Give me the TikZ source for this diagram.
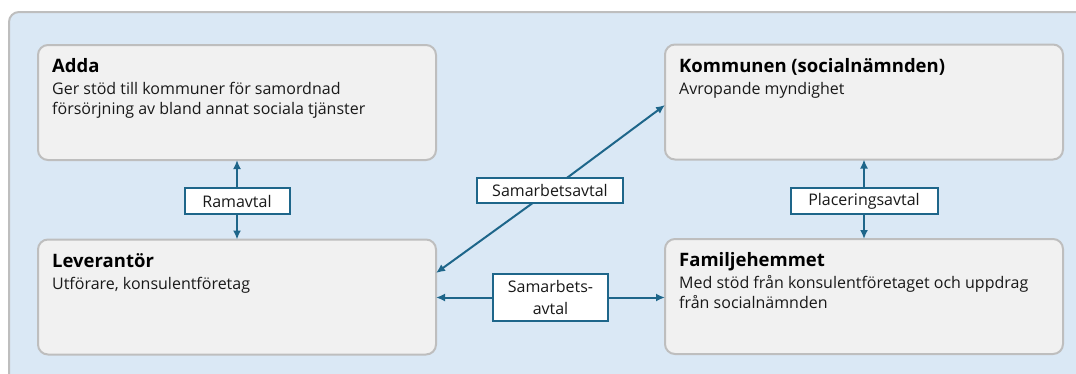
\documentclass[tikz,border=0pt]{standalone}
\usepackage{fontspec}
\setmainfont{Open Sans}
\usetikzlibrary{arrows.meta}
\definecolor{panelblue}{RGB}{218,232,245}
\definecolor{boxgray}{RGB}{241,241,241}
\definecolor{kantgray}{RGB}{190,190,190}
\definecolor{pilblue}{RGB}{30,102,138}
\begin{document}
\begin{tikzpicture}[x=1pt, y=-1pt,
    kort/.style={draw=kantgray, fill=boxgray, line width=2pt, rounded corners=10pt, minimum width=398pt, minimum height=115pt, inner sep=0pt, outer sep=0pt},
    rubrik/.style={anchor=base west, inner sep=0pt, font=\fontsize{18.5}{22}\selectfont\bfseries},
    brodtext/.style={anchor=north west, inner sep=0pt, align=left, text=black!90, font=\fontsize{16}{19.5}\selectfont},
    avtal/.style={draw=pilblue, fill=white, line width=2pt, minimum height=26pt, inner sep=0pt, outer sep=0pt, text=black!90, font=\fontsize{16}{21.5}\selectfont},
    pil/.style={draw=pilblue, line width=2pt, -{Latex[length=9pt,width=8pt]}}]
    \useasboundingbox (0,0) rectangle (1076,373);
    \clip (0,0) rectangle (1076,373);

    % 背景
    \draw[draw=kantgray, fill=panelblue, line width=2pt, rounded corners=10pt] (9,12) rectangle (1100,400);

    % 四个框
    \node[kort] (adda) at (237,102.5) {};
    \node[kort] (kommunen) at (864,102) {};
    \node[kort] (leverantor) at (237,297) {};
    \node[kort] (familj) at (864,296.5) {};

    % 框内文字
    \node[rubrik] (adda-rubrik) at ([xshift=14pt,yshift=-27.5pt]adda.north west) {Adda};
    \node[brodtext] (adda-text) at ([xshift=14pt,yshift=-35.8pt]adda.north west) {\strut Ger stöd till kommuner för samordnad\\försörjning av bland annat sociala tjänster};
    \node[rubrik] (kommunen-rubrik) at ([xshift=14pt,yshift=-27.5pt]kommunen.north west) {Kommunen (socialnämnden)};
    \node[brodtext] (kommunen-text) at ([xshift=14pt,yshift=-35.8pt]kommunen.north west) {\strut Avropande myndighet};
    \node[rubrik] (leverantor-rubrik) at ([xshift=14pt,yshift=-27.5pt]leverantor.north west) {Leverantör};
    \node[brodtext] (leverantor-text) at ([xshift=14pt,yshift=-35.8pt]leverantor.north west) {\strut Utförare, konsulentföretag};
    \node[rubrik] (familj-rubrik) at ([xshift=14pt,yshift=-27.5pt]familj.north west) {Familjehemmet};
    \node[brodtext] (familj-text) at ([xshift=14pt,yshift=-35.8pt]familj.north west) {\strut Med stöd från konsulentföretaget och uppdrag\\från socialnämnden};

    % 协议
    \node[avtal, minimum width=105pt] (ramavtal) at (237,201) {Ramavtal};
    \node[avtal, minimum width=147pt] (placering) at (864,201) {Placeringsavtal};
    \node[avtal, minimum width=146pt, minimum height=25pt] (samarb) at (550,190.5) {Samarbetsavtal};
    \node[avtal, minimum width=115pt, minimum height=47pt, align=center] (samarb2) at (550.5,297.5) {Samarbets-\\avtal};

    % 箭头
    \draw[pil] (ramavtal) -- (adda);
    \draw[pil] (ramavtal) -- (leverantor);
    \draw[pil] (placering) -- (kommunen);
    \draw[pil] (placering) -- (familj);
    \coordinate (lev-in) at ([yshift=24pt]leverantor.east);
    \coordinate (komm-in) at ([yshift=-3pt]kommunen.west);
    \draw[pil] (samarb) -- (lev-in);
    \draw[pil] (samarb) -- (komm-in);
    \draw[pil] (samarb2) -- (samarb2 -| leverantor.east);
    \draw[pil] (samarb2) -- (samarb2 -| familj.west);
\end{tikzpicture}
\end{document}
